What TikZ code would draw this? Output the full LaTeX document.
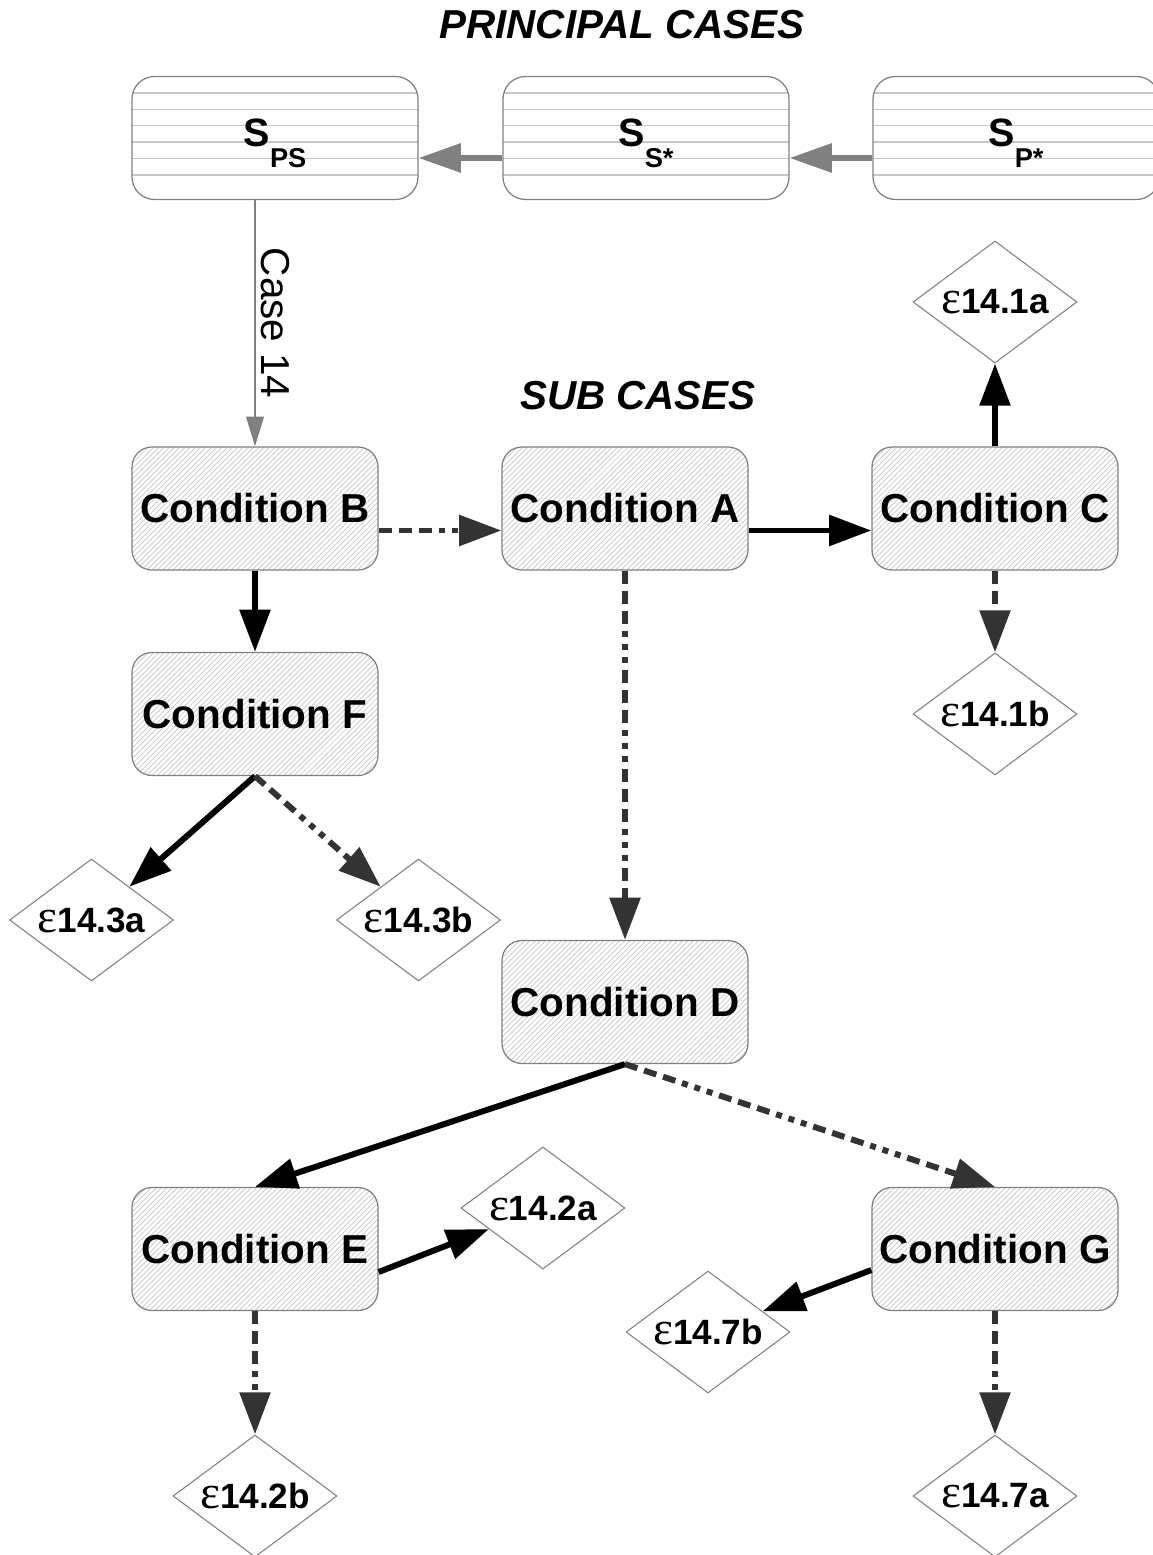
\documentclass[tikz,border=0pt]{standalone}
\usepackage{fontspec}
\setmainfont{Liberation Sans}
\newfontfamily\epsfont{Liberation Serif}
\usetikzlibrary{arrows.meta,shapes.geometric,patterns,positioning}
\colorlet{penColor}{black}
\colorlet{penColor2}{black!80}
\colorlet{boxLine}{black!50}
\colorlet{stripeColor}{black!22}
\newcommand{\stateS}[1]{\raisebox{-5pt}[0pt][0pt]{\fontsize{22.5}{22}\selectfont S}\raisebox{-16.7pt}[0pt][0pt]{\fontsize{15.5}{16}\selectfont #1}}
\newcommand{\eps}{{\fontsize{27}{22}\epsfont\mdseries ε}}
\tikzset{
  casebox/.style={draw=boxLine, line width=0.7pt, rounded corners=0.45cm,
    minimum width=5.72cm, minimum height=2.46cm, font=\bfseries,
    path picture={\foreach \k in {1,...,6}
      {\draw[stripeColor, line width=0.8pt] ([yshift=-\k*0.328cm]path picture bounding box.north west) -- ++(7,0);}}},
  condbox/.style={draw=boxLine, line width=0.7pt, rounded corners=0.4cm,
    minimum width=4.92cm, minimum height=2.46cm,
    pattern=north east lines, pattern color=stripeColor,
    font=\fontsize{23}{26}\selectfont\bfseries},
  endbox/.style={draw=boxLine, line width=0.6pt, shape=diamond, aspect=1.34,
    minimum width=3.28cm, minimum height=2.44cm, inner sep=0pt,
    font=\fontsize{20}{22}\selectfont\bfseries},
  headline/.style={font=\fontsize{23}{26}\selectfont\bfseries\itshape},
  solidarrow/.style={draw=penColor, line width=3.4pt, -{Triangle[length=24pt,width=17pt]}},
  dashdots/.style={draw=penColor2, line width=3.4pt,
    dash pattern=on 7.4pt off 4pt on 7.4pt off 4pt on 7.4pt off 4pt on 3.4pt off 4pt on 3.4pt off 4pt on 3.4pt off 4pt,
    -{Triangle[length=24pt,width=17pt]}},
  grayarrow/.style={draw=black!50, line width=3.2pt, -{Triangle[length=24pt,width=16pt]}},
  thinarrow/.style={draw=black!50, line width=1.4pt, -{Triangle[length=17pt,width=10pt]}},
}

\begin{document}
\begin{tikzpicture}
\useasboundingbox (0,0) rectangle (23.04,-31.1);
% principal cases
\node[headline] (principal) at (12.44,-0.5) {PRINCIPAL CASES};
\node[casebox] (sps) at (5.5,-2.76) {\stateS{PS}};
\node[casebox] (sss) at (12.92,-2.76) {\stateS{S*}};
\node[casebox] (spp) at (20.32,-2.76) {\stateS{P*}};
\draw[grayarrow] ([yshift=-0.4cm]spp.west) -- ([yshift=-0.4cm]sss.east);
\draw[grayarrow] ([yshift=-0.4cm]sss.west) -- ([yshift=-0.4cm]sps.east);

% sub cases
\node[headline] (sub) at (12.76,-7.92) {SUB CASES};
\node[condbox] (B) at (5.1,-10.17) {Condition B};
\node[condbox] (A) at (12.5,-10.17) {Condition A};
\node[condbox] (C) at (19.9,-10.17) {Condition C};
\node[condbox] (F) at (5.1,-14.28) {Condition F};
\node[condbox] (D) at (12.5,-20.04) {Condition D};
\node[condbox] (E) at (5.1,-24.98) {Condition E};
\node[condbox] (G) at (19.9,-24.98) {Condition G};

\node[endbox] (e1a) at (19.9,-6.04) {\eps14.1a};
\node[endbox] (e1b) at (19.9,-14.28) {\eps14.1b};
\node[endbox] (e3a) at (1.83,-18.4) {\eps14.3a};
\node[endbox] (e3b) at (8.37,-18.4) {\eps14.3b};
\node[endbox] (e2a) at (10.86,-24.16) {\eps14.2a};
\node[endbox] (e7b) at (14.16,-26.64) {\eps14.7b};
\node[endbox] (e2b) at (5.1,-29.92) {\eps14.2b};
\node[endbox] (e7a) at (19.9,-29.92) {\eps14.7a};

\draw[thinarrow] (sps.south -| B.north) -- (B.north)
  node[midway, rotate=-90, anchor=south, inner sep=3pt, font=\fontsize{23}{26}\selectfont] (case) {Case 14};

\draw[dashdots] ([yshift=-0.44cm]B.east) -- ([yshift=-0.44cm]A.west);
\draw[solidarrow] ([yshift=-0.44cm]A.east) -- ([yshift=-0.44cm]C.west);
\draw[solidarrow] (C.north) -- (e1a.south);
\draw[dashdots] (C.south) -- (e1b.north);
\draw[solidarrow] (B.south) -- (F.north);
\draw[solidarrow] (F.south) -- (e3a);
\draw[dashdots] (F.south) -- (e3b);
\draw[dashdots] (A.south) -- (D.north);
\draw[solidarrow] (D.south) -- (E.north);
\draw[dashdots] (D.south) -- (G.north);
\draw[solidarrow] ([yshift=-0.46cm]E.east) -- (e2a);
\draw[dashdots] (E.south) -- (e2b.north);
\draw[solidarrow] ([yshift=-0.42cm]G.west) -- (e7b);
\draw[dashdots] (G.south) -- (e7a.north);
\end{tikzpicture}
\end{document}
